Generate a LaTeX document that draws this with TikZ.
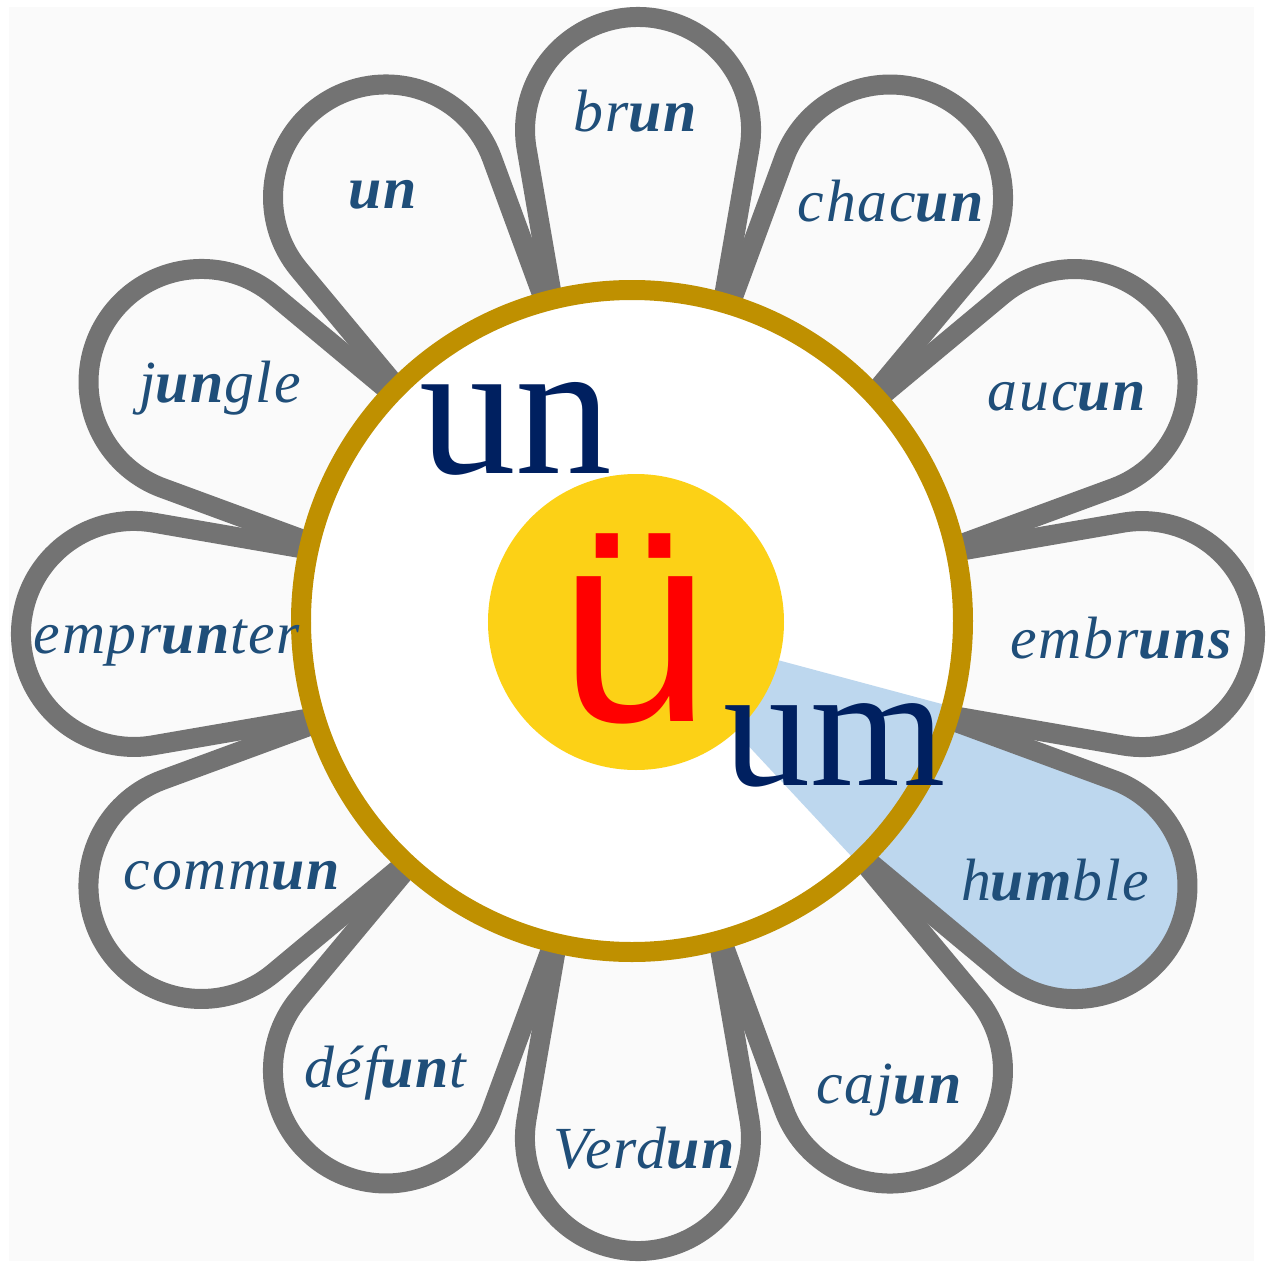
\documentclass[tikz,border=0pt]{standalone}
\usepackage{fontspec}
\setmainfont{Liberation Serif}
\newfontfamily\sansu{Liberation Sans}
\newfontfamily\wordfont[LetterSpace=3]{Liberation Serif}
\newcommand{\nas}[1]{\textbf{#1}}

\begin{document}
\begin{tikzpicture}[scale=1.0,
    petal/.style={draw=petalgray, line width=0.2cm, line join=round},
    word/.style={font=\wordfont\fontsize{17}{20}\selectfont\itshape, text=wordblue,
                 anchor=base, inner sep=0pt},
    big/.style={text=navy, anchor=base, inner sep=0pt}]

% --- parameters ---
\def\rr{3.31}    % ring radius (centre line)
\def\rs{1.48}    % sun radius
\def\petalpath{(2.5,-0.708) -- (4.848,-1.114)
    arc[start angle=-99.8, end angle=99.8, radius=1.13] -- (2.5,0.708) -- cycle}

% --- colors ---
\definecolor{bggray}{RGB}{250,250,250}
\definecolor{petalgray}{RGB}{115,115,115}
\definecolor{petalblue}{RGB}{189,215,238}
\definecolor{ringgold}{RGB}{191,144,0}
\definecolor{sunyellow}{RGB}{252,209,22}
\definecolor{navy}{RGB}{0,32,96}
\definecolor{wordblue}{RGB}{31,78,121}

\useasboundingbox (-6.32,-6.40) rectangle (6.38,6.21);

% --- background ---
\fill[bggray] (-6.23,-6.40) rectangle (6.22,6.14);

% --- petals ---
\begin{scope}[shift={(0.06,-0.13)}]
    \foreach \a in {0,30,...,330} {
        \fill[bggray, rotate=\a] \petalpath;
    }
    % highlighted petal (humble)
    \fill[petalblue, rotate=-30] \petalpath;
    \foreach \a in {0,30,...,330} {
        \draw[petal, rotate=\a] \petalpath;
    }
\end{scope}

% --- heart of the flower ---
\fill[white] (0,0) circle (\rr);
\fill[petalblue] (0,0) -- (-15:\rr)
    arc[start angle=-15, end angle=-47, radius=\rr] -- cycle;
\fill[sunyellow] (0.04,-0.01) circle (\rs);
\draw[ringgold, line width=0.2cm] (0,0) circle (\rr);

% --- words on the petals ---
\foreach \x/\y/\w/\n in {
    0.03/4.89/{br\nas{un}}/brun,
    2.59/3.99/{chac\nas{un}}/chacun,
    4.35/2.11/{auc\nas{un}}/aucun,
    4.89/-0.37/{embr\nas{uns}}/embruns,
    4.23/-2.79/{h\nas{um}ble}/humble,
    2.57/-4.82/{caj\nas{un}}/cajun,
    0.12/-5.47/{Verd\nas{un}}/verdun,
    -2.47/-4.66/{déf\nas{un}t}/defunt,
    -4.00/-2.68/{comm\nas{un}}/commun,
    -4.65/-0.32/{empr\nas{un}ter}/emprunter,
    -4.12/2.19/{j\nas{un}gle}/jungle,
    -2.49/4.13/{\nas{un}}/unword} {
    \node[word] (\n) at (\x,\y) {\w};
}

% --- centre labels ---
\node[big, font=\fontsize{55}{60}\selectfont] (bigun) at (-1.16,1.48) {un};
\node[big, font=\fontsize{49.5}{54}\selectfont] (bigum) at (2.03,-1.64) {um};
\node[font=\sansu\fontsize{78}{80}\selectfont, text=red, anchor=base,
      inner sep=0pt] (uml) at (0.03,-1.00) {ü};

\end{tikzpicture}
\end{document}
